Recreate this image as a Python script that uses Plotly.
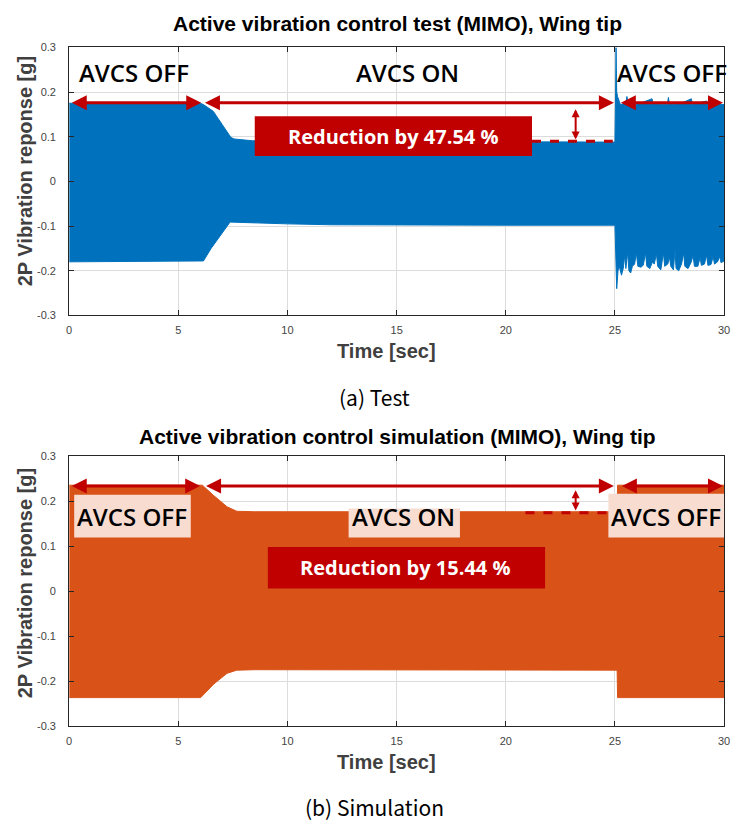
import plotly.graph_objects as go

# ---------------- data ----------------
# (a) Test: envelope of the 2P vibration response [g]
test_upper_t = [0, 6.0, 6.15, 6.6, 7.0, 7.4, 7.55, 8.4, 12, 16, 21, 25.0, 25.03, 25.05, 25.08,
                25.12, 25.25, 25.5, 25.55, 25.6, 26.0, 26.7, 26.75, 27.4, 27.45, 27.5, 28.0,
                28.5, 28.55, 29.2, 29.25, 30]
test_upper_g = [0.175, 0.175, 0.172, 0.157, 0.128, 0.099, 0.095, 0.091, 0.090, 0.089, 0.089, 0.088,
                0.200, 0.300, 0.200, 0.190, 0.172, 0.175, 0.190, 0.172, 0.172, 0.185, 0.172,
                0.173, 0.188, 0.172, 0.174, 0.185, 0.172, 0.180, 0.172, 0.172]
test_lower_t = [0, 6.15, 6.5, 7.37, 8.1, 10, 12, 15, 20, 25.0, 25.04, 25.08, 25.14, 25.2, 25.3,
                25.38, 25.45, 25.5, 25.58, 25.64, 25.72, 25.8, 25.9, 25.98, 26.05, 26.2, 26.3,
                26.4, 26.46, 26.6, 26.72, 26.8, 26.9, 26.96, 27.1, 27.22, 27.28, 27.42, 27.5,
                27.56, 27.68, 27.75, 27.8, 27.92, 28.05, 28.15, 28.2, 28.35, 28.5, 28.58, 28.64,
                28.8, 28.9, 28.96, 29.1, 29.2, 29.26, 29.4, 29.5, 29.56, 29.7, 29.8, 29.86, 30]
test_lower_g = [-0.180, -0.178, -0.150, -0.091, -0.093, -0.095, -0.097, -0.098, -0.098, -0.098,
                -0.170, -0.240, -0.200, -0.190, -0.210, -0.195, -0.165, -0.195, -0.158, -0.200,
                -0.205, -0.190, -0.185, -0.160, -0.190, -0.192, -0.187, -0.160, -0.190, -0.195,
                -0.180, -0.185, -0.162, -0.190, -0.198, -0.160, -0.190, -0.185, -0.170, -0.190,
                -0.198, -0.153, -0.195, -0.200, -0.185, -0.160, -0.190, -0.195, -0.180, -0.165,
                -0.190, -0.190, -0.170, -0.188, -0.185, -0.165, -0.188, -0.186, -0.168, -0.185,
                -0.180, -0.168, -0.182, -0.178]

# (b) Simulation: envelope of the 2P vibration response [g]
sim_upper_t = [0, 6.1, 6.62, 7.23, 7.68, 8.5, 25.1, 25.12, 30]
sim_upper_g = [0.236, 0.236, 0.213, 0.188, 0.178, 0.177, 0.177, 0.236, 0.236]
sim_lower_t = [0, 6.02, 6.62, 7.23, 7.68, 8.5, 25.1, 25.12, 30]
sim_lower_g = [-0.236, -0.236, -0.206, -0.182, -0.175, -0.174, -0.175, -0.236, -0.236]

x_ticks = [0, 5, 10, 15, 20, 25, 30]
x_tick_labels = ["0", "5", "10", "15", "20", "25", "30"]
y_ticks = [-0.3, -0.2, -0.1, 0, 0.1, 0.2, 0.3]
y_tick_labels = ["-0.3", "-0.2", "-0.1", "0", "0.1", "0.2", "0.3"]

titles = ["Active vibration control test (MIMO), Wing tip",
          "Active vibration control simulation (MIMO), Wing tip"]
captions = ["(a) Test", "(b) Simulation"]
reductions = ["Reduction by 47.54 %", "Reduction by 15.44 %"]

# ---------------- figure ----------------
W, H = 738, 829
BLUE = "#0072BD"
ORANGE = "#D95319"
RED = "#C00000"
PINK = "#F8DCD0"


def px_x(p):
    return p / W


def px_y(p):
    return 1 - p / H


fig = go.Figure()
fig.add_trace(go.Scatter(
    x=test_upper_t + test_lower_t[::-1], y=test_upper_g + test_lower_g[::-1],
    fill="toself", fillcolor=BLUE, line=dict(color=BLUE, width=1),
    mode="lines", xaxis="x", yaxis="y", showlegend=False, hoverinfo="skip"))
fig.add_trace(go.Scatter(
    x=sim_upper_t + sim_lower_t[::-1], y=sim_upper_g + sim_lower_g[::-1],
    fill="toself", fillcolor=ORANGE, line=dict(color=ORANGE, width=1),
    mode="lines", xaxis="x2", yaxis="y2", showlegend=False, hoverinfo="skip"))

tickfont = dict(family="Liberation Sans, Arial", size=11, color="#444444")
axis_common = dict(showline=True, linecolor="#262626", linewidth=1, mirror="allticks",
                   ticks="inside", ticklen=5, tickcolor="#262626",
                   showgrid=True, gridcolor="#DCDCDC", gridwidth=1,
                   zeroline=False, tickfont=tickfont)

xdom = [px_x(67), px_x(730)]
fig.update_layout(
    width=W, height=H, autosize=False,
    margin=dict(l=0, r=0, t=0, b=0),
    paper_bgcolor="white", plot_bgcolor="white",
    xaxis=dict(domain=xdom, range=[0, 30], tickvals=x_ticks, ticktext=x_tick_labels,
               anchor="y", ticklabelstandoff=4, **axis_common),
    yaxis=dict(domain=[px_y(314), px_y(42)], range=[-0.3, 0.3], tickvals=y_ticks,
               ticktext=y_tick_labels, anchor="x", ticklabelstandoff=10, **axis_common),
    xaxis2=dict(domain=xdom, range=[0, 30], tickvals=x_ticks, ticktext=x_tick_labels,
                anchor="y2", ticklabelstandoff=4, **axis_common),
    yaxis2=dict(domain=[px_y(731), px_y(457)], range=[-0.3, 0.3], tickvals=y_ticks,
                ticktext=y_tick_labels, anchor="x2", ticklabelstandoff=10, **axis_common),
)

ann = []
shapes = []

title_font = dict(family="Liberation Sans, Arial", size=21, color="#000000")
axtitle_font = dict(family="Liberation Sans, Arial", size=20, color="#404040")
cap_font = dict(family="Noto Sans CJK KR", size=21, color="#000000")
label_font = dict(family="Open Sans", size=24, color="#000000", weight=600)
red_font = dict(family="Open Sans", size=20, color="#FFFFFF", weight=700)

# texts outside the axes (paper coordinates)
for title_y, xt_y, yt_y, cap_y, title, cap in [
        (18, 350, 168, 397, titles[0], captions[0]),
        (437, 767, 586, 813, titles[1], captions[1])]:
    ann.append(dict(text="<b>" + title + "</b>", x=px_x(399), y=px_y(title_y), xref="paper",
                    yref="paper", showarrow=False, font=title_font, xanchor="center",
                    yanchor="middle"))
    ann.append(dict(text="<b>Time [sec]</b>", x=px_x(388), y=px_y(xt_y), xref="paper",
                    yref="paper", showarrow=False, font=axtitle_font, xanchor="center",
                    yanchor="middle"))
    ann.append(dict(text="<b>2P Vibration reponse [g]</b>", x=px_x(22), y=px_y(yt_y),
                    xref="paper", yref="paper", showarrow=False, font=axtitle_font,
                    textangle=-90, xanchor="center", yanchor="middle"))
    ann.append(dict(text=cap, x=px_x(376), y=px_y(cap_y), xref="paper", yref="paper",
                    showarrow=False, font=cap_font, xanchor="center", yanchor="middle"))


def arrow(xr, yr, x0, y0, x1, y1, size=1.0, width=3):
    ann.append(dict(text="", x=x1, y=y1, ax=x0, ay=y0, xref=xr, yref=yr, axref=xr, ayref=yr,
                    showarrow=True, arrowhead=2, arrowside="end+start", arrowsize=size,
                    arrowwidth=width, arrowcolor=RED, standoff=0, startstandoff=0))


# ---- (a) Test annotations ----
for x, txt in [(2.95, "AVCS OFF"), (15.5, "AVCS ON"), (27.6, "AVCS OFF")]:
    ann.append(dict(text=txt, x=x, y=0.243, xref="x", yref="y", showarrow=False,
                    font=label_font, xanchor="center", yanchor="middle"))
arrow("x", "y", 0.05, 0.176, 6.05, 0.176)
arrow("x", "y", 6.15, 0.176, 24.95, 0.176)
arrow("x", "y", 25.2, 0.176, 29.95, 0.176)
shapes.append(dict(type="line", xref="x", yref="y", x0=21.2, x1=24.9, y0=0.09, y1=0.09,
                   line=dict(color=RED, width=3, dash="dash"), layer="above"))
arrow("x", "y", 23.2, 0.165, 23.2, 0.094, size=0.8, width=2)
shapes.append(dict(type="rect", xref="x", yref="y", x0=8.5, x1=21.2, y0=0.057, y1=0.146,
                   fillcolor=RED, line=dict(width=0), layer="above"))
ann.append(dict(text=reductions[0], x=14.85, y=0.101, xref="x", yref="y",
                showarrow=False, font=red_font, xanchor="center", yanchor="middle"))

# ---- (b) Simulation annotations ----
for x0, x1, y0, y1 in [(0.23, 5.57, 0.12, 0.215), (12.8, 17.9, 0.12, 0.184),
                       (24.7, 30.0, 0.12, 0.217)]:
    shapes.append(dict(type="rect", xref="x2", yref="y2", x0=x0, x1=x1, y0=y0, y1=y1,
                       fillcolor=PINK, line=dict(width=0), layer="above"))
for x, txt in [(2.9, "AVCS OFF"), (15.3, "AVCS ON"), (27.35, "AVCS OFF")]:
    ann.append(dict(text=txt, x=x, y=0.166, xref="x2", yref="y2", showarrow=False,
                    font=label_font, xanchor="center", yanchor="middle"))
arrow("x2", "y2", 0.05, 0.234, 6.0, 0.234)
arrow("x2", "y2", 6.2, 0.234, 24.95, 0.234)
arrow("x2", "y2", 25.25, 0.234, 29.95, 0.234)
shapes.append(dict(type="line", xref="x2", yref="y2", x0=20.9, x1=24.7, y0=0.175, y1=0.175,
                   line=dict(color=RED, width=3, dash="dash"), layer="above"))
arrow("x2", "y2", 23.2, 0.228, 23.2, 0.18, size=0.8, width=2)
shapes.append(dict(type="rect", xref="x2", yref="y2", x0=9.1, x1=21.8, y0=0.0066, y1=0.0985,
                   fillcolor=RED, line=dict(width=0), layer="above"))
ann.append(dict(text=reductions[1], x=15.4, y=0.0525, xref="x2", yref="y2",
                showarrow=False, font=red_font, xanchor="center", yanchor="middle"))

fig.update_layout(annotations=ann, shapes=shapes)

# pin the figure to the window's top-left corner so that the page never overflows
page_fix = ("var d=document.documentElement,b=document.body,g=document.getElementById('{plot_id}');"
            "d.style.margin='0';d.style.padding='0';d.style.overflow='hidden';"
            "b.style.margin='0';b.style.padding='0';b.style.overflow='hidden';"
            "g.style.position='fixed';g.style.left='0px';g.style.top='0px';")
fig.write_html("out.html", post_script=page_fix, config={"displayModeBar": False})
